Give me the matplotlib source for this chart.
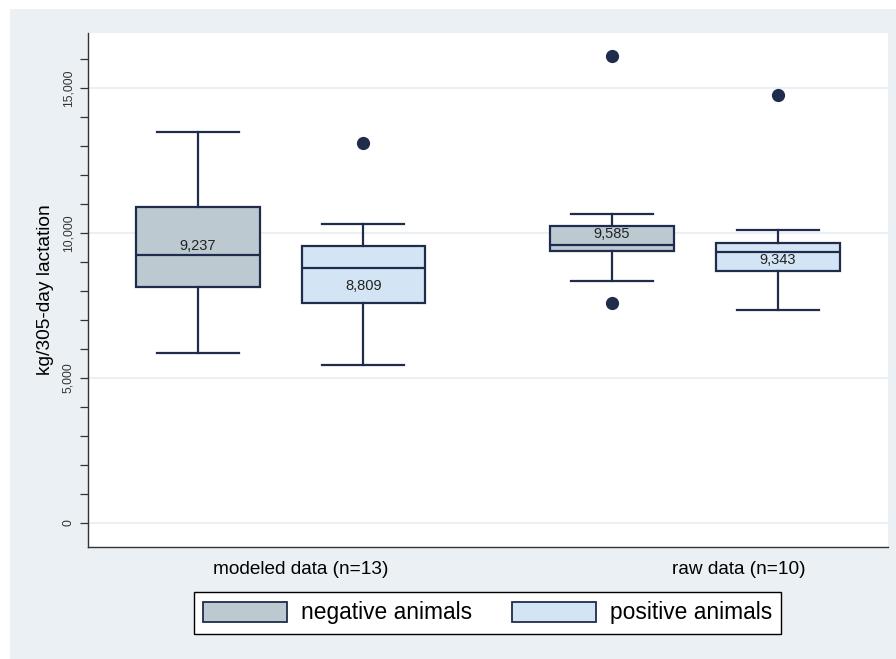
import matplotlib.pyplot as plt
from matplotlib.patches import Patch, Rectangle

plt.rcParams['font.family'] = ['Liberation Sans', 'DejaVu Sans']

# kg/305-day lactation, box statistics
groups = ['modeled data (n=13)', 'raw data (n=10)']
series = ['negative animals', 'positive animals']
whislo = [5860, 5450, 8350, 7350]
q1 = [8140, 7590, 9380, 8700]
med = [9237, 8809, 9585, 9343]
q3 = [10900, 9550, 10250, 9650]
whishi = [13480, 10310, 10670, 10100]
fliers = [[], [13100], [16100, 7600], [14750]]
med_labels = ['9,237', '8,809', '9,585', '9,343']

navy = '#1f2c4c'
fills = ['#bdc9d1', '#d3e5f4', '#bdc9d1', '#d3e5f4']

fig = plt.figure(figsize=(8.96, 6.59), dpi=100, facecolor='white')
fig.patches.append(Rectangle((10 / 896, 0), 1, 1 - 9 / 659, transform=fig.transFigure,
                             facecolor='#eaf0f3', edgecolor='none', zorder=-10))
ax = fig.add_axes([88 / 896, 112 / 659, 800 / 896, 514 / 659])
ax.set_facecolor('white')

stats = []
for i in range(4):
    stats.append(dict(whislo=whislo[i], q1=q1[i], med=med[i], q3=q3[i],
                      whishi=whishi[i], fliers=fliers[i]))

pos = [0.1375, 0.344, 0.655, 0.8625]
bp = ax.bxp(stats, positions=pos, widths=0.154, capwidths=0.103, patch_artist=True,
            manage_ticks=False,
            boxprops=dict(edgecolor=navy, linewidth=1.6),
            medianprops=dict(color=navy, linewidth=1.6),
            whiskerprops=dict(color=navy, linewidth=1.6),
            capprops=dict(color=navy, linewidth=1.6),
            flierprops=dict(marker='o', markerfacecolor=navy, markeredgecolor=navy,
                            markersize=8.5))
for b, c in zip(bp['boxes'], fills):
    b.set_facecolor(c)

# median value labels (pixel offsets from the median line)
offs = [9, -18, 11, -8]
for p, m, t, o in zip(pos, med, med_labels, offs):
    ax.annotate(t, (p, m), xytext=(0, o * 0.72), textcoords='offset points',
                ha='center', va='center', fontsize=10.5, color='#222222')

ax.set_xlim(0, 1)
ax.set_ylim(-830, 16900)
ax.set_xticks([])
ax.set_yticks([0, 5000, 10000, 15000])
ax.set_yticklabels(['0', '5,000', '10,000', '15,000'], rotation=90, va='center',
                   fontsize=8.7, color='#333333')
ax.set_yticks(range(1000, 17000, 1000), minor=True)
ax.tick_params(axis='y', which='both', length=6, width=0.9, color='#333333', pad=4)
ax.yaxis.grid(True, color='#e6eef2', linewidth=1.2)
ax.set_axisbelow(True)
for s in ['top', 'right']:
    ax.spines[s].set_visible(False)
ax.spines['left'].set_color('#333333')
ax.spines['bottom'].set_color('#333333')
ax.spines['left'].set_linewidth(1.0)
ax.spines['bottom'].set_linewidth(1.0)
ax.set_ylabel('kg/305-day lactation', fontsize=13.8, labelpad=6)

fig.text(301 / 896, 1 - 569 / 659, groups[0], ha='center', va='center', fontsize=13.7)
fig.text(739 / 896, 1 - 569 / 659, groups[1], ha='center', va='center', fontsize=13.7)

handles = [Patch(facecolor=fills[0], edgecolor=navy, linewidth=1.3, label=series[0]),
           Patch(facecolor=fills[1], edgecolor=navy, linewidth=1.3, label=series[1])]
leg = fig.legend(handles=handles, ncol=2, loc='center',
                 bbox_to_anchor=(487.5 / 896, 1 - 613 / 659), fontsize=16.4,
                 frameon=True, fancybox=False, edgecolor='black', framealpha=1,
                 handlelength=3.7, handleheight=1.0, columnspacing=1.75,
                 handletextpad=0.6, borderpad=0.4)
leg.get_frame().set_linewidth(1.0)

fig.savefig('out.png', dpi=100)
